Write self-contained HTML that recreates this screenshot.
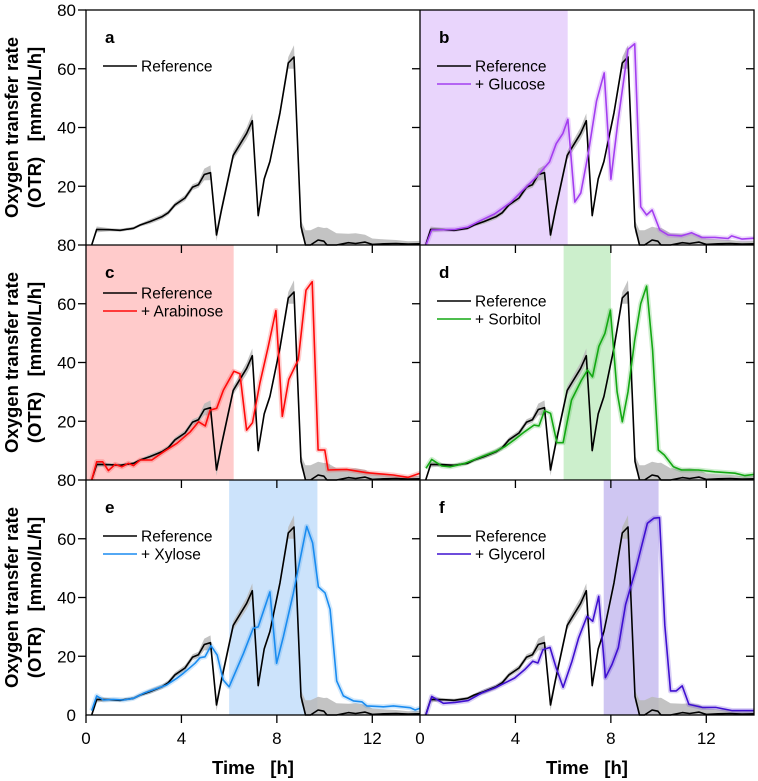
<!DOCTYPE html>
<html><head><meta charset="utf-8"><style>
html,body{margin:0;padding:0;background:#fff;}
svg{display:block;font-family:"Liberation Sans",Arial,sans-serif;}
</style></head><body>
<svg id="chart" width="758" height="781" viewBox="0 0 758 781" xmlns="http://www.w3.org/2000/svg"></svg>
<script>
const refT=[0.24,0.45,1.0,1.43,1.99,2.27,2.69,3.18,3.45,3.73,4.15,4.47,4.71,4.96,5.22,5.47,5.68,6.17,6.73,6.97,7.22,7.47,7.71,8.13,8.48,8.72,9.01,9.2,9.41,9.73,9.97,10.1,10.5,11,11.3,11.7,12.0,12.5,13,13.5,14];
const refV=[0,5.3,5.2,5,5.7,6.8,8,9.6,11,13.7,16,19.7,20.5,24,24.6,3.4,12,30.5,38,42.3,10,22.5,28.4,45,62,64,6.3,0,0,1.7,1.3,0,0,0.8,0.5,1,0.2,0.4,0.5,0.3,0.4];
const refErr=[0,1,0.5,0.5,0.5,0.5,0.8,0.8,0.8,0.8,1,1,1,2,2.5,2,1.5,1.5,2,2.5,1,1,1,1.5,2,4,2,5,5,4.5,4.5,5.9,4,3,3.5,2.5,2,1.5,1.2,1,1];
const gluT=[0.25,0.49,1.47,2.0,2.56,3.13,3.82,4.38,4.94,5.43,5.71,5.99,6.2,6.49,6.74,7.05,7.4,7.72,8.0,8.3,8.72,9.0,9.25,9.5,9.73,10.05,10.4,10.96,11.38,11.8,12.36,12.92,13.06,13.5,14];
const gluV=[0,5.1,5.3,6.1,8.4,10.6,14.6,19.2,23.7,28.3,34.5,38,42.8,14.6,17.7,31,49,58.6,22.4,42.2,66.6,68.5,13,10.2,11.9,5.1,3.4,3.1,4.2,2.6,2.6,2.2,3.1,2,2.3];
const araT=[0.24,0.45,0.7,0.94,1.22,1.5,1.78,1.99,2.27,2.76,3.25,3.81,4.37,4.72,5.0,5.2,5.48,5.76,6.2,6.45,6.73,6.98,7.29,7.64,7.96,8.23,8.5,8.9,9.22,9.48,9.73,10.01,10.15,10.92,11.76,12.88,13.5,14];
const araV=[0,6.2,6.2,3.2,5.3,4.5,5.7,4.9,6.8,6.8,9.6,12.5,16.4,19.8,18.4,23.8,24.4,30.6,37,36.2,17,19.5,33,45.5,57.7,21.7,34.2,41,64.6,67.5,10.2,10.2,3.4,3.6,2.5,1.7,0.9,2.3];
const sorT=[0.25,0.49,0.91,1.26,1.89,2.58,3.13,3.55,3.97,4.38,4.78,4.99,5.22,5.47,5.74,6.0,6.35,6.77,7.02,7.23,7.5,7.75,7.98,8.26,8.48,8.72,9.0,9.25,9.5,9.75,9.99,10.24,10.62,10.96,11.66,12.36,13.2,13.62,14];
const sorV=[4,7,4.8,4.5,5.7,7.9,9.6,11.3,13.8,16.4,18.7,18.4,23.6,22.7,12.7,12.7,27.2,34,37.4,35.1,45.5,49.9,57.8,30,19.8,30,47.6,60,66,44.2,10.2,8.5,4.5,3.4,3.4,2.8,2.3,1.5,1.9];
const xylT=[0.24,0.45,0.73,1.15,1.57,1.99,2.41,2.82,3.38,3.8,4.08,4.57,4.78,4.99,5.24,5.5,5.75,6.0,6.6,7.01,7.22,7.71,7.99,8.27,8.69,9.25,9.5,9.74,10.02,10.23,10.51,10.79,11.21,11.56,11.77,12.47,12.89,13.59,13.8,14];
const xylV=[1.5,6.5,5.1,5.3,5.1,5.7,7.4,8.6,10.2,12.5,14.2,17.6,19.5,19.8,23.6,20.4,11.9,9.6,21,29.5,30,41.9,17.6,26.6,41.4,64.2,58.6,43.6,41.6,36,11.6,6.5,4.8,4.5,3.1,2.8,3.1,2.5,1.7,2.3];
const glyT=[0.25,0.49,0.98,1.47,2.02,2.58,3.13,3.97,4.38,4.73,4.94,5.15,5.45,5.71,6.0,6.37,6.65,7.0,7.24,7.49,7.77,8.05,8.31,8.62,9.04,9.53,9.8,10.04,10.26,10.5,10.74,10.99,11.27,11.83,12.39,13.09,14];
const glyV=[0,6.3,4,4.3,4.9,7.5,9.2,12.6,15.4,18.3,17.7,22.2,23,16,9.4,18.3,26.2,33.6,31.9,40.4,12.7,17.2,22.9,37.6,49.5,65.3,67,67.2,30.6,8.2,8.2,9.9,3.6,2.6,2.6,1.5,1.5];
const yTicks=[20,40,60,80];
const xTicks=[0,4,8,12];

const panels=[
 {id:'a',col:0,row:0,name:null},
 {id:'b',col:1,row:0,name:'+ Glucose',T:gluT,V:gluV,color:'#a33ef0',fill:'#e9d5fc',sh:[0,6.19]},
 {id:'c',col:0,row:1,name:'+ Arabinose',T:araT,V:araV,color:'#ff0a0a',fill:'#ffcbcb',sh:[0,6.19]},
 {id:'d',col:1,row:1,name:'+ Sorbitol',T:sorT,V:sorV,color:'#13a813',fill:'#ccefcc',sh:[6.02,8.0]},
 {id:'e',col:0,row:2,name:'+ Xylose',T:xylT,V:xylV,color:'#1a8cf0',fill:'#cce3fb',sh:[6.0,9.7]},
 {id:'f',col:1,row:2,name:'+ Glycerol',T:glyT,V:glyV,color:'#3f10d0',fill:'#cfc6f2',sh:[7.7,10.0]}
];
const NS='http://www.w3.org/2000/svg';
const svg=document.getElementById('chart');
function mk(tag,attrs,parent){const e=document.createElementNS(NS,tag);for(const k in attrs)e.setAttribute(k,attrs[k]);(parent||svg).appendChild(e);return e;}
const X0=[86,420],PW=334,Y0=[245,480,715],PH=235;
function sx(c,t){return X0[c]+t/14*PW;}
function sy(r,v){return Y0[r]-v/80*PH;}
function linePath(c,r,T,V){return T.map((t,i)=>(i?'L':'M')+sx(c,t).toFixed(1)+','+sy(r,V[i]).toFixed(1)).join(' ');}

panels.forEach(p=>{
  const g=mk('g',{});
  
  
  const c=p.col,r=p.row;
  if(p.sh){
    const rc=mk('rect',{x:sx(c,p.sh[0]),y:Y0[r]-PH,width:sx(c,p.sh[1])-sx(c,p.sh[0]),height:PH,fill:p.fill},g);
    
    
  }
  // reference band
  let up=refT.map((t,i)=>sx(c,t).toFixed(1)+','+sy(r,refV[i]+refErr[i]).toFixed(1));
  let lo=refT.map((t,i)=>sx(c,t).toFixed(1)+','+sy(r,Math.max(0,refV[i]-refErr[i])).toFixed(1)).reverse();
  const band=mk('polygon',{points:up.concat(lo).join(' '),fill:'#b8b8b8',opacity:'0.85'},g);
  
  
  if(p.T){
    const hb=mk('path',{d:linePath(c,r,p.T,p.V),fill:'none',stroke:p.color,'stroke-opacity':'0.2','stroke-width':'5','stroke-linejoin':'round'},g);
    
    
  }
  const rl=mk('path',{d:linePath(c,r,refT,refV),fill:'none',stroke:'#000','stroke-width':'1.6','stroke-linejoin':'round'},g);
  
  
  if(p.T){
    const sl=mk('path',{d:linePath(c,r,p.T,p.V),fill:'none',stroke:p.color,'stroke-width':'1.6','stroke-linejoin':'round'},g);
    
    
  }
  // panel letter
  const lab=mk('text',{x:X0[c]+19,y:Y0[r]-PH+33,'font-size':'17','font-weight':'bold'},g);
  lab.textContent=p.id;
  
  
  // legend
  const ly=(r===0)?66:(p.id==='c'?293:(r===1?301:536));
  const ly2=ly+18;
  const lg=mk('g',{},g);
  
  
  mk('line',{x1:X0[c]+17,x2:X0[c]+51,y1:ly,y2:ly,stroke:'#000','stroke-width':'1.6'},lg);
  const t1=mk('text',{x:X0[c]+55,y:ly+5.5,'font-size':'15.5'},lg);
  t1.textContent='Reference';
  
  
  if(p.name){
    mk('line',{x1:X0[c]+17,x2:X0[c]+51,y1:ly2,y2:ly2,stroke:p.color,'stroke-width':'1.6'},lg);
    const t2=mk('text',{x:X0[c]+55,y:ly2+5.5,'font-size':'15.5'},lg);
    t2.textContent=p.name;
    
    
  }
});

// frames & axes
const ax=mk('g',{stroke:'#000','stroke-width':'1.3',fill:'none'});


mk('rect',{x:86,y:10,width:668,height:705},ax);
mk('line',{x1:420,x2:420,y1:10,y2:715},ax);
mk('line',{x1:86,x2:754,y1:245,y2:245},ax);
mk('line',{x1:86,x2:754,y1:480,y2:480},ax);
for(let r=0;r<3;r++){
  yTicks.forEach(v=>{
    const y=sy(r,v);
    mk('line',{x1:78,x2:86,y1:y,y2:y},ax);
    if(v<80){
      mk('line',{x1:412,x2:420,y1:y,y2:y},ax);
      mk('line',{x1:746,x2:754,y1:y,y2:y},ax);
    }
    const tl=mk('text',{x:76,y:y+6,'font-size':'17','text-anchor':'end',fill:'#000',stroke:'none'});
    tl.textContent=v;
    
    
  });
  for(let c=0;c<2;c++){
    xTicks.forEach(t=>{
      if(t===0)return;
      const x=sx(c,t);
      if(r>0) mk('line',{x1:x,x2:x,y1:Y0[r]-PH,y2:Y0[r]-PH+8},ax);
    });
  }
}
const y0l=mk('text',{x:76,y:721,'font-size':'17','text-anchor':'end'});
y0l.textContent='0';


for(let c=0;c<2;c++){
  xTicks.forEach(t=>{
    const x=sx(c,t);
    mk('line',{x1:x,x2:x,y1:715,y2:723},ax);
    const tl=mk('text',{x:x,y:744,'font-size':'17','text-anchor':'middle'});
    tl.textContent=t;
    
    
  });
  const xt=mk('text',{x:X0[c]+167,y:774,'font-size':'18.5','font-weight':'bold','text-anchor':'middle','xml:space':'preserve'});
  xt.textContent='Time   [h]';
  
  
  xt.style.whiteSpace='pre';
}
for(let r=0;r<3;r++){
  const cy=Y0[r]-PH/2;
  const a=mk('text',{x:0,y:0,'font-size':'18.5','font-weight':'bold','text-anchor':'middle',transform:`translate(18,${cy}) rotate(-90)`});
  a.textContent='Oxygen transfer rate';
  
  
  const b=mk('text',{x:0,y:0,'font-size':'18.5','font-weight':'bold','text-anchor':'middle',transform:`translate(41,${cy}) rotate(-90)`});
  b.style.whiteSpace='pre';
  b.textContent='(OTR)   [mmol/L/h]';
  
  
}
</script>
</body></html>
